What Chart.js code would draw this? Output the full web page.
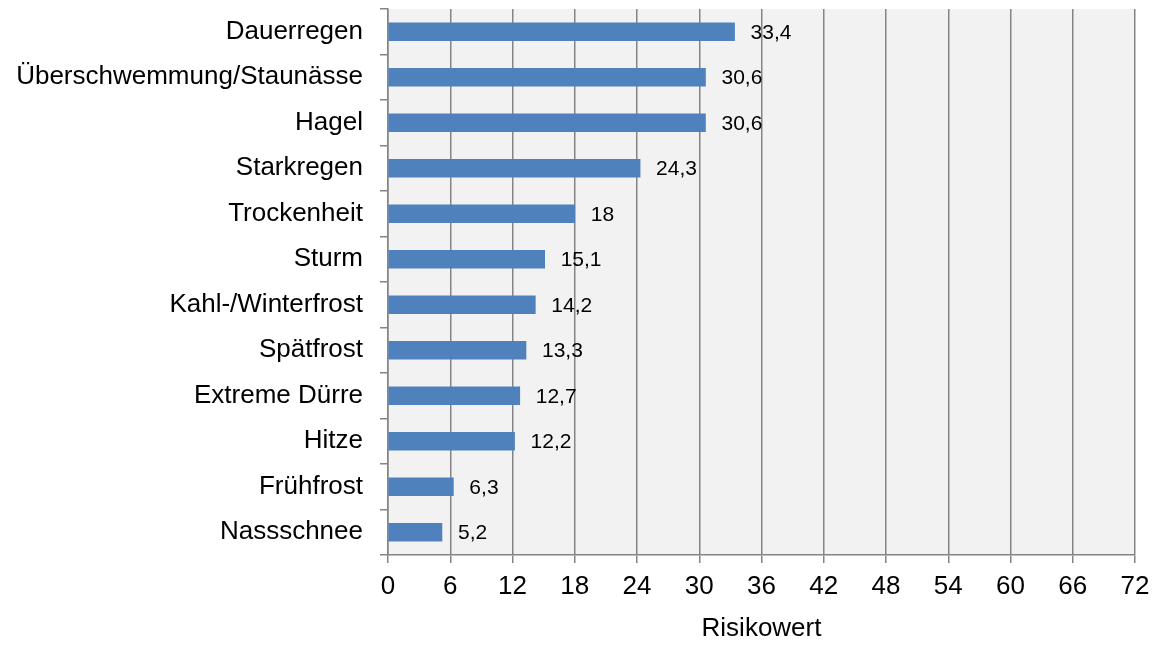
<!DOCTYPE html>
<html>
<head>
<meta charset="utf-8">
<script src="https://cdn.jsdelivr.net/npm/chart.js@4/dist/chart.umd.min.js"></script>
<style>
  html, body { margin: 0; padding: 0; background: #ffffff; }
  #wrap { position: relative; width: 1158px; height: 646px; }
</style>
</head>
<body>
<div id="wrap"><canvas id="c" width="1158" height="646"></canvas></div>
<script>
const categories = [
  "Dauerregen", "Überschwemmung/Staunässe", "Hagel", "Starkregen", "Trockenheit",
  "Sturm", "Kahl-/Winterfrost", "Spätfrost", "Extreme Dürre", "Hitze",
  "Frühfrost", "Nassschnee"
];
const risikowert = [33.4, 30.6, 30.6, 24.3, 18, 15.1, 14.2, 13.3, 12.7, 12.2, 6.3, 5.2];
const xTickMin = 0;
const xTickMax = 72;
const xTickStep = 6;
const xAxisTitle = "Risikowert";

const FONT = "'Liberation Sans', Arial, 'DejaVu Sans', sans-serif";
const GRID = "#848484";

const plotBg = {
  id: 'plotBg',
  beforeDraw(chart) {
    const {ctx, chartArea: a} = chart;
    ctx.save();
    ctx.fillStyle = '#f2f2f2';
    ctx.fillRect(a.left, a.top, a.right - a.left, a.bottom - a.top);
    ctx.restore();
  }
};

const valueLabels = {
  id: 'valueLabels',
  afterDatasetsDraw(chart) {
    const {ctx} = chart;
    const meta = chart.getDatasetMeta(0);
    ctx.save();
    ctx.font = "21px " + FONT;
    ctx.fillStyle = '#000';
    ctx.textAlign = 'left';
    ctx.textBaseline = 'middle';
    meta.data.forEach((bar, i) => {
      const v = chart.data.datasets[0].data[i];
      const txt = String(v).replace('.', ',');
      ctx.fillText(txt, bar.x + 16, bar.y + 1);
    });
    ctx.restore();
  }
};

new Chart(document.getElementById('c'), {
  type: 'bar',
  data: {
    labels: categories,
    datasets: [{
      data: risikowert,
      backgroundColor: '#4f81bd',
      borderWidth: 0,
      barThickness: 18
    }]
  },
  options: {
    indexAxis: 'y',
    responsive: false,
    animation: false,
    devicePixelRatio: 1,
    layout: { padding: { left: 0, right: 23, top: 9, bottom: 0 } },
    plugins: {
      legend: { display: false },
      tooltip: { enabled: false }
    },
    scales: {
      x: {
        min: xTickMin,
        max: xTickMax,
        afterFit(scale) { scale.height = 91; scale.paddingLeft = 0; scale.paddingRight = 0; },
        ticks: {
          stepSize: xTickStep,
          color: '#000',
          padding: 8,
          font: { family: FONT, size: 26 },
          maxRotation: 0
        },
        grid: {
          color: GRID,
          lineWidth: 1.5,
          tickLength: 8,
          drawTicks: true
        },
        border: { display: true, color: GRID, width: 1.5 },
        title: {
          display: true,
          text: xAxisTitle,
          color: '#000',
          font: { family: FONT, size: 26 },
          padding: { top: 0, bottom: 2 }
        }
      },
      y: {
        afterFit(scale) { scale.width = 388; scale.paddingTop = 0; scale.paddingBottom = 0; },
        ticks: {
          color: '#000',
          padding: 17,
          font: { family: FONT, size: 26 },
          autoSkip: false
        },
        grid: {
          drawOnChartArea: false,
          drawTicks: true,
          tickLength: 8,
          color: GRID,
          lineWidth: 1.5
        },
        border: { display: true, color: GRID, width: 1.5 }
      }
    }
  },
  plugins: [plotBg, valueLabels]
});
</script>
</body>
</html>
